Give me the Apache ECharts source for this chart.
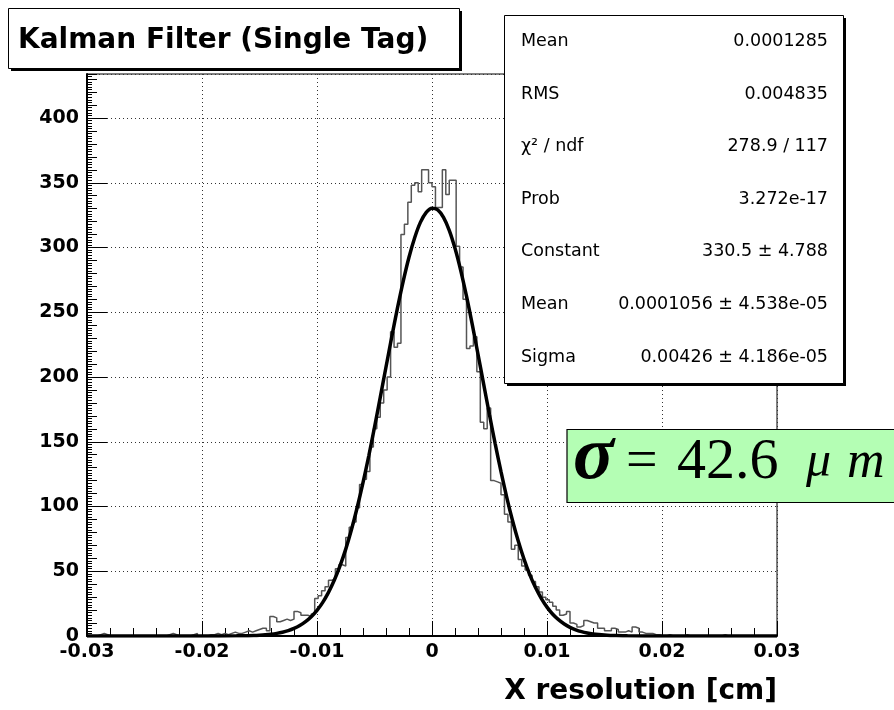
<!DOCTYPE html>
<html><head><meta charset="utf-8">
<script src="https://cdn.jsdelivr.net/npm/echarts@6/dist/echarts.min.js"></script>
<style>html,body{margin:0;padding:0;background:#fff}#c{width:894px;height:710px}</style>
</head><body><div id="c"></div>
<script>
// ---- data ----
const binLow = -0.03;
const binWidth = 0.0003;   // 200 bins over [-0.03, 0.03]
const counts = [
  0,0,0,1,2,1,0,0,0,0,  0,0,0,0,0,0,0,0,0,0,
  0,0,0,1,2,1,0,0,0,0,  1,2,0,0,0,1,1,2,1,2,
  1,2,3,2,2,3,4,3,4,5,  6,6,4,15,14,11,12,13,12,13,
  19,18,16,16,15,17,29,31,35,38,  43,44,52,55,54,76,84,88,99,117,
  121,127,146,160,169,180,190,200,235,223,  226,310,318,335,348,350,343,360,360,350,
  347,331,331,360,341,352,352,301,285,260,  222,224,231,204,165,160,176,120,119,118,
  109,94,88,67,70,59,54,51,47,42,  38,34,30,28,26,23,20,16,17,19,
  10,9,7,8,12,11,10,10,6,6,  4,4,6,5,3,3,4,3,7,6,
  3,2,2,2,1,1,0,0,1,0,  0,0,0,1,0,0,0,0,0,0,
  0,0,0,0,1,0,0,0,0,0,  0,0,0,0,0,0,0,0,0,0
];
// fitted Gaussian curve
const fitX = [-0.03,-0.02,-0.017,-0.016,-0.0155,-0.015,-0.0145,-0.014,-0.0135,-0.013,-0.0125,-0.012,-0.0115,-0.011,-0.0105,-0.01,
  -0.0095,-0.009,-0.0085,-0.008,-0.0075,-0.007,-0.0065,-0.006,-0.0055,-0.005,-0.0045,-0.004,-0.0035,-0.003,-0.0025,-0.002,-0.0015,-0.001,-0.0005,
  0,0.0005,0.001,0.0015,0.002,0.0025,0.003,0.0035,0.004,0.0045,0.005,0.0055,0.006,0.0065,0.007,0.0075,0.008,0.0085,0.009,0.0095,
  0.01,0.0105,0.011,0.0115,0.012,0.0125,0.013,0.0135,0.014,0.0145,0.015,0.0155,0.016,0.017,0.02,0.03];
const fitY = [0,0.01,0.14,0.26,0.4,0.62,0.93,1.38,2.02,2.91,4.15,5.83,8.08,11.06,14.91,19.83,
  26.0,33.7,43.0,54.1,67.1,82.2,99.4,118.4,139.0,161.2,184.3,207.7,231.0,253.4,274.1,292.5,307.8,319.6,327.2,
  330.4,329.1,323.3,313.3,299.4,282.2,262.4,240.6,217.6,194.1,170.8,148.2,126.9,107.1,89.2,73.3,59.4,47.4,37.4,29.1,
  22.3,16.8,12.6,9.24,6.71,4.8,3.39,2.36,1.62,1.1,0.73,0.48,0.31,0.13,0.01,0];
const xTickLabels = ['-0.03','-0.02','-0.01','0','0.01','0.02','0.03'];
const yTickLabels = ['0','50','100','150','200','250','300','350','400'];
const statsLabels = ['Mean','RMS','χ² / ndf','Prob','Constant','Mean','Sigma'];
const statsValues = ['0.0001285','0.004835','278.9 / 117','3.272e-17','330.5 ± 4.788','0.0001056 ± 4.538e-05','0.00426 ± 4.186e-05'];
const titleText = 'Kalman Filter (Single Tag)';
const xAxisTitle = 'X resolution [cm]';
const yMax = 434;

// ---- build ----
const histData = counts.map((c, i) => [binLow + i * binWidth, c]);
histData.push([binLow + counts.length * binWidth, 0]);
const fitData = fitX.map((x, i) => [x, fitY[i]]);

const SANS = '"DejaVu Sans", Verdana, sans-serif';
const SERIF = '"Liberation Serif", "Times New Roman", serif';

const graphics = [];
// title box
graphics.push({type:'rect', z:20, shape:{x:11,y:11,width:451,height:60}, style:{fill:'#000'}});
graphics.push({type:'rect', z:21, shape:{x:8.5,y:8.5,width:451,height:60}, style:{fill:'#fff', stroke:'#000', lineWidth:1}});
graphics.push({type:'text', z:22, x:18, y:41, style:{text:titleText, font:'bold 28px '+SANS, fill:'#000', textAlign:'left', textVerticalAlign:'middle'}});
// stats box
graphics.push({type:'rect', z:20, shape:{x:507,y:18,width:339,height:368}, style:{fill:'#000'}});
graphics.push({type:'rect', z:21, shape:{x:504.5,y:15.5,width:339,height:368}, style:{fill:'#fff', stroke:'#000', lineWidth:1}});
statsLabels.forEach((lab, k) => {
  const y = 41.5 + k * 52.6;
  graphics.push({type:'text', z:22, x:521, y:y, style:{text:lab, font:'17.5px '+SANS, fill:'#000', textAlign:'left', textVerticalAlign:'middle'}});
  graphics.push({type:'text', z:22, x:828, y:y, style:{text:statsValues[k], font:'17.5px '+SANS, fill:'#000', textAlign:'right', textVerticalAlign:'middle'}});
});
// sigma box
graphics.push({type:'rect', z:20, shape:{x:567,y:429.5,width:340,height:73}, style:{fill:'#b4feb4', stroke:'#000', lineWidth:1.2}});
graphics.push({type:'text', z:22, x:573, y:458, style:{text:'σ', font:'italic bold 76px '+SERIF, fill:'#000', textAlign:'left', textVerticalAlign:'middle'}});
graphics.push({type:'text', z:22, x:626, y:463, style:{text:'=', font:'56px '+SERIF, fill:'#000', textAlign:'left', textVerticalAlign:'middle'}});
graphics.push({type:'text', z:22, x:677, y:463, style:{text:'42.6', font:'58px '+SERIF, fill:'#000', textAlign:'left', textVerticalAlign:'middle'}});
graphics.push({type:'text', z:22, x:806, y:463, style:{text:'μ', font:'italic 50px '+SERIF, fill:'#000', textAlign:'left', textVerticalAlign:'middle'}});
graphics.push({type:'text', z:22, x:847, y:463, style:{text:'m', font:'italic 52px '+SERIF, fill:'#000', textAlign:'left', textVerticalAlign:'middle'}});
// x axis title
graphics.push({type:'text', z:22, x:777, y:692, style:{text:xAxisTitle, font:'bold 28px '+SANS, fill:'#000', textAlign:'right', textVerticalAlign:'middle'}});

const chart = echarts.init(document.getElementById('c'), null, {renderer:'canvas'});
chart.setOption({
  animation:false,
  backgroundColor:'#fff',
  grid:{left:87, top:74, width:690, height:562, show:true, borderColor:'#000', borderWidth:1, backgroundColor:'transparent'},
  xAxis:{
    type:'value', min:-0.03, max:0.03, interval:0.01,
    axisLine:{show:true, onZero:false, lineStyle:{color:'#000', width:2}},
    axisTick:{show:true, inside:true, length:15, lineStyle:{color:'#000', width:1}},
    minorTick:{show:true, splitNumber:5, length:8, lineStyle:{color:'#000', width:1}},
    axisLabel:{margin:7, color:'#000', fontWeight:'bold', fontSize:19, fontFamily:SANS,
      formatter:(v)=>xTickLabels[Math.round((v - binLow) / 0.01)] || ''},
    splitLine:{show:true, lineStyle:{color:'#333', width:1, type:[1,3]}},
    minorSplitLine:{show:false}
  },
  yAxis:[{
    type:'value', min:0, max:yMax, interval:50,
    axisLine:{show:true, onZero:false, lineStyle:{color:'#000', width:2}},
    axisTick:{show:true, inside:true, length:20, lineStyle:{color:'#000', width:1}},
    minorTick:{show:false},
    axisLabel:{margin:8, color:'#000', fontWeight:'bold', fontSize:19, fontFamily:SANS, showMaxLabel:false,
      formatter:(v)=>{const k=Math.round(v/50); return (Math.abs(v-k*50)<1e-6 && yTickLabels[k]) ? yTickLabels[k] : '';}},
    splitLine:{show:true, lineStyle:{color:'#333', width:1, type:[1,3]}}
  },{
    type:'value', min:0, max:yMax, interval:10, position:'left',
    axisLine:{show:false, onZero:false},
    axisTick:{show:true, inside:true, length:10, lineStyle:{color:'#000', width:1}},
    minorTick:{show:true, splitNumber:5, length:5, lineStyle:{color:'#000', width:1}},
    axisLabel:{show:false},
    splitLine:{show:false}
  }],
  series:[{
    type:'line', step:'end', data:histData, showSymbol:false, symbol:'none',
    lineStyle:{color:'#555', width:1.5}, z:3, silent:true
  },{
    type:'line', smooth:0.35, data:fitData, showSymbol:false, symbol:'none',
    lineStyle:{color:'#000', width:3.5}, z:4, silent:true
  }],
  graphic:{elements:graphics}
});
</script>
</body></html>
